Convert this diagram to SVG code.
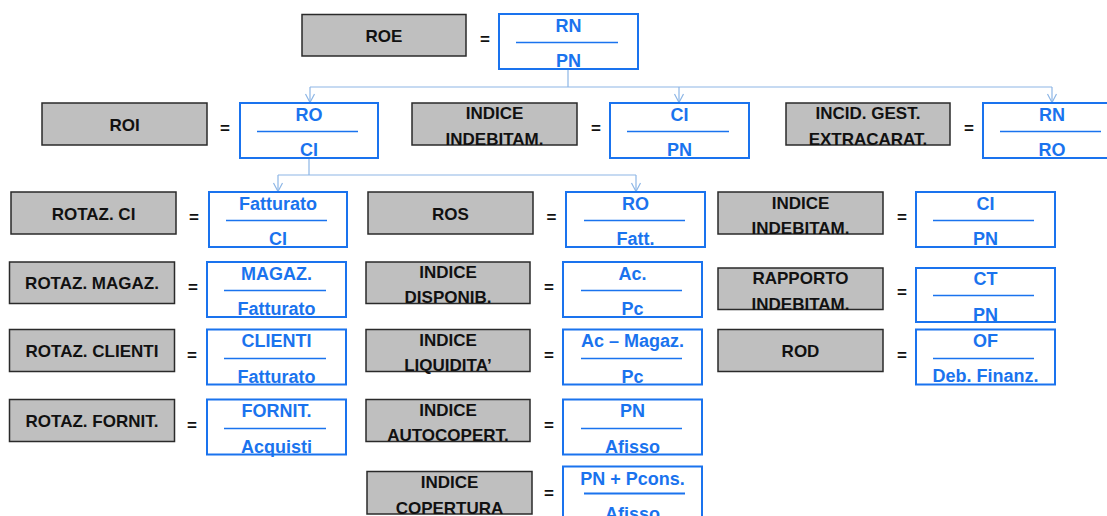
<svg xmlns="http://www.w3.org/2000/svg" width="1107" height="516" viewBox="0 0 1107 516">
<style>
.g{fill:#bfbfbf;stroke:#2a2a2a;stroke-width:1.5}
.b{fill:#ffffff;stroke:#1a73ee;stroke-width:2}
.t{font-family:"Liberation Sans",Arial,sans-serif;font-weight:bold;font-size:17px;fill:#111;text-anchor:middle}
.bt{font-family:"Liberation Sans",Arial,sans-serif;font-weight:bold;font-size:18px;fill:#1a73ee;text-anchor:middle}
.fl{stroke:#1a73ee;stroke-width:1.3}
.c{fill:none;stroke:#8db6e6;stroke-width:1.2}
</style>
<defs>
<marker id="ah" markerUnits="userSpaceOnUse" markerWidth="12" markerHeight="12" viewBox="-10 -6 12 12" refX="0" refY="0" orient="auto" overflow="visible">
<path d="M-8.5,-4.5 L0,0 L-8.5,4.5" fill="none" stroke="#8db6e6" stroke-width="1.2"/>
</marker>
</defs>
<rect width="1107" height="516" fill="#ffffff"/>

<g id="connectors">
<path class="c" d="M568,69 V87 M310,87 H1052"/>
<path class="c" d="M310,87 V102.5" marker-end="url(#ah)"/>
<path class="c" d="M679,87 V102.5" marker-end="url(#ah)"/>
<path class="c" d="M1052,87 V102.5" marker-end="url(#ah)"/>
<path class="c" d="M309,158 V175 M278,175 H636"/>
<path class="c" d="M278,175 V191.5" marker-end="url(#ah)"/>
<path class="c" d="M636,175 V191.5" marker-end="url(#ah)"/>
</g>

<g id="roe">
<rect class="g" x="302" y="14.5" width="164" height="41.5"/>
<text class="t" x="384" y="42">ROE</text>
<text class="t" x="485" y="45">=</text>
<rect class="b" x="499" y="14" width="139" height="55"/>
<line class="fl" x1="516" y1="42.5" x2="618" y2="42.5"/>
<text class="bt" x="568.5" y="31.5">RN</text>
<text class="bt" x="568.5" y="67">PN</text>
</g>

<g id="roi">
<rect class="g" x="42" y="103" width="165" height="42"/>
<text class="t" x="124.5" y="130.5">ROI</text>
<text class="t" x="225" y="134">=</text>
<rect class="b" x="240" y="103" width="138" height="55"/>
<line class="fl" x1="257" y1="131.5" x2="358" y2="131.5"/>
<text class="bt" x="309" y="120.5">RO</text>
<text class="bt" x="309" y="156">CI</text>
</g>

<g id="indice-indebitam-1">
<rect class="g" x="412" y="103" width="165" height="42"/>
<text class="t" x="494.5" y="119">INDICE</text>
<text class="t" x="494.5" y="144.5">INDEBITAM.</text>
<text class="t" x="596" y="134">=</text>
<rect class="b" x="610" y="103" width="139" height="55"/>
<line class="fl" x1="627" y1="131.5" x2="729" y2="131.5"/>
<text class="bt" x="679.5" y="120.5">CI</text>
<text class="bt" x="679.5" y="156">PN</text>
</g>

<g id="incid-gest">
<rect class="g" x="786" y="103" width="164" height="42"/>
<text class="t" x="868" y="119">INCID. GEST.</text>
<text class="t" x="868" y="144.5">EXTRACARAT.</text>
<text class="t" x="969" y="134">=</text>
<rect class="b" x="983" y="103" width="139" height="55"/>
<line class="fl" x1="1000" y1="131.5" x2="1101" y2="131.5"/>
<text class="bt" x="1052" y="120.5">RN</text>
<text class="bt" x="1052" y="156">RO</text>
</g>

<g id="rotaz-ci">
<rect class="g" x="11" y="192" width="165" height="42"/>
<text class="t" x="93.5" y="219.5">ROTAZ. CI</text>
<text class="t" x="194" y="223">=</text>
<rect class="b" x="209" y="192" width="138" height="55"/>
<line class="fl" x1="226" y1="220.5" x2="327" y2="220.5"/>
<text class="bt" x="278" y="209.5">Fatturato</text>
<text class="bt" x="278" y="245">CI</text>
</g>

<g id="ros">
<rect class="g" x="368" y="192" width="165" height="42"/>
<text class="t" x="450.5" y="219.5">ROS</text>
<text class="t" x="551.5" y="223">=</text>
<rect class="b" x="566" y="192" width="139" height="55"/>
<line class="fl" x1="584" y1="220.5" x2="685" y2="220.5"/>
<text class="bt" x="635.5" y="209.5">RO</text>
<text class="bt" x="635.5" y="245">Fatt.</text>
</g>

<g id="indice-indebitam-2">
<rect class="g" x="718" y="192" width="165" height="42"/>
<text class="t" x="800.5" y="208.5">INDICE</text>
<text class="t" x="800.5" y="234">INDEBITAM.</text>
<text class="t" x="902" y="223">=</text>
<rect class="b" x="916" y="192" width="139" height="55"/>
<line class="fl" x1="933" y1="220.5" x2="1034" y2="220.5"/>
<text class="bt" x="985.5" y="209.5">CI</text>
<text class="bt" x="985.5" y="245">PN</text>
</g>

<g id="rotaz-magaz">
<rect class="g" x="9.5" y="262" width="165" height="41.5"/>
<text class="t" x="92" y="289">ROTAZ. MAGAZ.</text>
<text class="t" x="193" y="292.5">=</text>
<rect class="b" x="207" y="262" width="139" height="55"/>
<line class="fl" x1="224" y1="290.5" x2="326" y2="290.5"/>
<text class="bt" x="276.5" y="279.5">MAGAZ.</text>
<text class="bt" x="276.5" y="315">Fatturato</text>
</g>

<g id="indice-disponib">
<rect class="g" x="366" y="262" width="164" height="41.5"/>
<text class="t" x="448" y="277.5">INDICE</text>
<text class="t" x="448" y="303">DISPONIB.</text>
<text class="t" x="549" y="292.5">=</text>
<rect class="b" x="563" y="262" width="139" height="55"/>
<line class="fl" x1="581" y1="290.5" x2="682" y2="290.5"/>
<text class="bt" x="632.5" y="279.5">Ac.</text>
<text class="bt" x="632.5" y="315">Pc</text>
</g>

<g id="rapporto-indebitam">
<rect class="g" x="718" y="268" width="165" height="41.5"/>
<text class="t" x="800.5" y="284">RAPPORTO</text>
<text class="t" x="800.5" y="309.5">INDEBITAM.</text>
<text class="t" x="902" y="298">=</text>
<rect class="b" x="916" y="268" width="139" height="54"/>
<line class="fl" x1="933" y1="295.5" x2="1034" y2="295.5"/>
<text class="bt" x="985.5" y="285">CT</text>
<text class="bt" x="985.5" y="320.5">PN</text>
</g>

<g id="rotaz-clienti">
<rect class="g" x="9.5" y="329.5" width="165" height="42"/>
<text class="t" x="92" y="357">ROTAZ. CLIENTI</text>
<text class="t" x="192" y="361">=</text>
<rect class="b" x="207" y="329.5" width="139" height="55"/>
<line class="fl" x1="224" y1="358.5" x2="326" y2="358.5"/>
<text class="bt" x="276.5" y="347">CLIENTI</text>
<text class="bt" x="276.5" y="382.5">Fatturato</text>
</g>

<g id="indice-liquidita">
<rect class="g" x="366" y="329.5" width="164" height="42"/>
<text class="t" x="448" y="345.5">INDICE</text>
<text class="t" x="448" y="371">LIQUIDITA’</text>
<text class="t" x="549" y="361">=</text>
<rect class="b" x="563" y="329.5" width="139" height="55"/>
<line class="fl" x1="581" y1="358.5" x2="682" y2="358.5"/>
<text class="bt" x="632.5" y="347">Ac – Magaz.</text>
<text class="bt" x="632.5" y="382.5">Pc</text>
</g>

<g id="rod">
<rect class="g" x="718" y="329.5" width="165" height="42"/>
<text class="t" x="800.5" y="357">ROD</text>
<text class="t" x="902" y="361">=</text>
<rect class="b" x="916" y="329.5" width="139" height="55"/>
<line class="fl" x1="933" y1="358.5" x2="1034" y2="358.5"/>
<text class="bt" x="985.5" y="346.5">OF</text>
<text class="bt" x="985.5" y="382">Deb. Finanz.</text>
</g>

<g id="rotaz-fornit">
<rect class="g" x="9.5" y="399.5" width="165" height="42"/>
<text class="t" x="92" y="427">ROTAZ. FORNIT.</text>
<text class="t" x="192" y="430.5">=</text>
<rect class="b" x="207" y="399.5" width="139" height="55"/>
<line class="fl" x1="224" y1="428.5" x2="326" y2="428.5"/>
<text class="bt" x="276.5" y="417">FORNIT.</text>
<text class="bt" x="276.5" y="452.5">Acquisti</text>
</g>

<g id="indice-autocopert">
<rect class="g" x="366" y="399.5" width="164" height="42"/>
<text class="t" x="448" y="415.5">INDICE</text>
<text class="t" x="448" y="441">AUTOCOPERT.</text>
<text class="t" x="549" y="430.5">=</text>
<rect class="b" x="563" y="399.5" width="139" height="55"/>
<line class="fl" x1="581" y1="428.5" x2="682" y2="428.5"/>
<text class="bt" x="632.5" y="417">PN</text>
<text class="bt" x="632.5" y="452.5">Afisso</text>
</g>

<g id="indice-copertura">
<rect class="g" x="367" y="471.5" width="165" height="42.5"/>
<text class="t" x="449.5" y="487.5">INDICE</text>
<text class="t" x="449.5" y="513.5">COPERTURA</text>
<text class="t" x="549" y="498.5">=</text>
<rect class="b" x="563" y="466.5" width="139" height="55"/>
<line x1="584" y1="493.5" x2="685" y2="493.5" stroke="#1a73ee" stroke-width="2"/>
<text class="bt" x="632.5" y="484.5">PN + Pcons.</text>
<text class="bt" x="632.5" y="520">Afisso</text>
</g>
</svg>
